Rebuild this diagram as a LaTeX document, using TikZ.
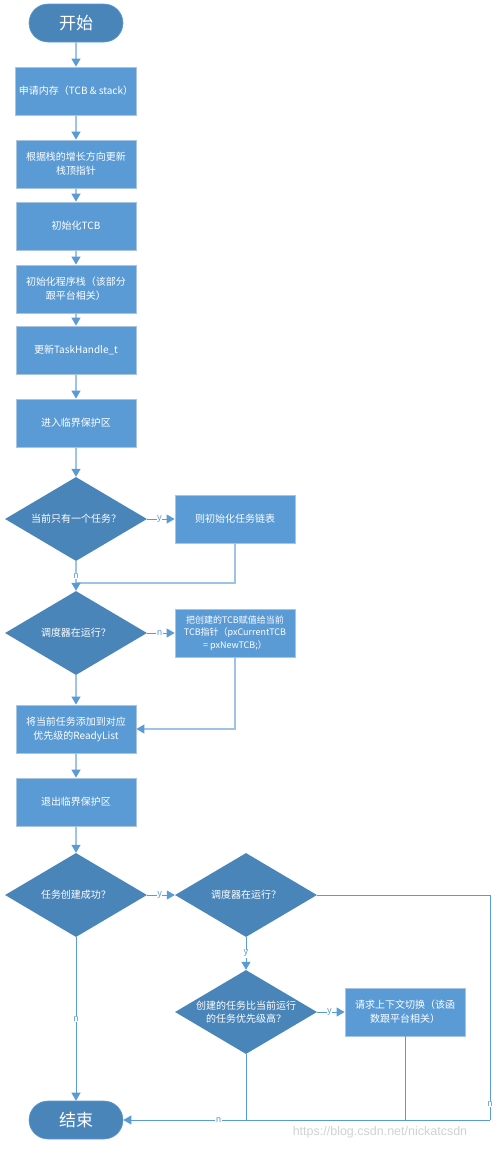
\documentclass[tikz,border=0pt]{standalone}
\usepackage{fontspec}
\setmainfont{Noto Sans CJK SC}
\newfontfamily\wmfont{Liberation Sans}
\usetikzlibrary{shapes.geometric,arrows.meta}
\definecolor{darkfill}{HTML}{4A85BA}
\definecolor{boxfill}{HTML}{5B9BD5}
\definecolor{boxedge}{HTML}{A9C4DE}
\definecolor{lineA}{HTML}{9DC3E6}
\definecolor{lineB}{HTML}{5B9BD5}
\tikzset{
  terminal/.style={rectangle, rounded corners=19pt, fill=darkfill, draw=lineB, line width=0.6pt,
    minimum width=94pt, minimum height=38pt, text=white, font=\fontsize{17}{20}\selectfont},
  process/.style={rectangle, fill=boxfill, draw=boxedge, line width=0.8pt,
    minimum width=120pt, minimum height=48pt, text=white, align=center,
    font=\fontsize{10}{14}\selectfont},
  smallproc/.style={process, font=\fontsize{9}{12.5}\selectfont},
  decision/.style={diamond, fill=darkfill, inner sep=0pt, minimum width=142pt, minimum height=84pt,
    label={[text=white, align=center, font=\fontsize{10}{13}\selectfont]center:#1}},
  conn/.style={draw=lineA, line width=1.2pt},
  connB/.style={draw=lineB, line width=1pt},
  arr/.style={-{Triangle[length=8pt,width=9pt,color=lineB]}},
  lab/.style={text=lineB, fill=white, inner sep=0.5pt, font=\fontsize{9}{10}\selectfont}
}
\begin{document}
\begin{tikzpicture}[x=1pt,y=-1pt]
\useasboundingbox (0,0) rectangle (499,1149);
\node[terminal] (start) at (76,23) {开始};
\node[process] (b1) at (76,91) {申请内存（TCB \& stack）};
\node[process] (b2) at (76,164) {根据栈的增长方向更新\\栈顶指针};
\node[process] (b3) at (76,226) {初始化TCB};
\node[process] (b4) at (76,289) {初始化程序栈（该部分\\跟平台相关）};
\node[process] (b5) at (76,350) {更新TaskHandle\_t};
\node[process] (b6) at (76,423) {进入临界保护区};
\node[decision={当前只有一个任务？}] (d1) at (76,519) {};
\node[process] (r1) at (235,519) {则初始化任务链表};
\node[decision={调度器在运行？}] (d2) at (76,633) {};
\node[smallproc] (r2) at (235,633) {把创建的TCB赋值给当前\\TCB指针（pxCurrentTCB\\= pxNewTCB;）};
\node[process] (b7) at (76,729) {将当前任务添加到对应\\优先级的ReadyList};
\node[process] (b8) at (76,802) {退出临界保护区};
\node[decision={任务创建成功？}] (d3) at (76,895) {};
\node[decision={调度器在运行？}] (d4) at (246,895) {};
\node[decision={创建的任务比当前运行\\的任务优先级高？}] (d5) at (246,1012) {};
\node[process] (r3) at (405,1012) {请求上下文切换（该函\\数跟平台相关）};
\node[terminal] (end) at (76,1120) {结束};
\coordinate (j1) at (76,583);
\coordinate (c1) at (490,895);
\coordinate (c2) at (490,1120);
\coordinate (j2) at (246,1120);
\coordinate (j3) at (405,1120);

\draw[conn,arr] (start) -- (b1);
\draw[conn,arr] (b1) -- (b2);
\draw[conn,arr] (b2) -- (b3);
\draw[conn,arr] (b3) -- (b4);
\draw[conn,arr] (b4) -- (b5);
\draw[conn,arr] (b5) -- (b6);
\draw[conn,arr] (b6) -- (d1);
\draw[connB,arr] (d1.east) -- node[lab,pos=0.45]{y} (r1.west);
\draw[conn] (r1.south) |- (j1);
\draw[conn,arr] (d1.south) -- node[lab,pos=0.5]{n} (d2.north);
\draw[connB,arr] (d2.east) -- node[lab,pos=0.45]{n} (r2.west);
\draw[conn,arr] (d2.south) -- (b7.north);
\draw[conn,arr] (r2.south) |- (b7.east);
\draw[conn,arr] (b7) -- (b8);
\draw[conn,arr] (b8) -- (d3);
\draw[connB,arr] (d3.east) -- node[lab,pos=0.45]{y} (d4.west);
\draw[connB,arr] (d4.south) -- node[lab,pos=0.5]{y} (d5.north);
\draw[connB,arr] (d5.east) -- node[lab,pos=0.45]{y} (r3.west);
\draw[connB,arr] (d3.south) -- node[lab,pos=0.5]{n} (end.north);
\draw[connB] (d4.east) -- (c1) -- node[lab,pos=0.93]{n} (c2);
\draw[connB,arr] (c2) -- node[lab,pos=0.74]{n} (end.east);
\draw[connB] (d5.south) -- (j2);
\draw[connB] (r3.south) -- (j3);
\node[text=black!18, font=\wmfont\fontsize{12.5}{14}\selectfont, inner sep=0pt] (wm) at (380,1132) {https://blog.csdn.net/nickatcsdn};
\end{tikzpicture}
\end{document}
